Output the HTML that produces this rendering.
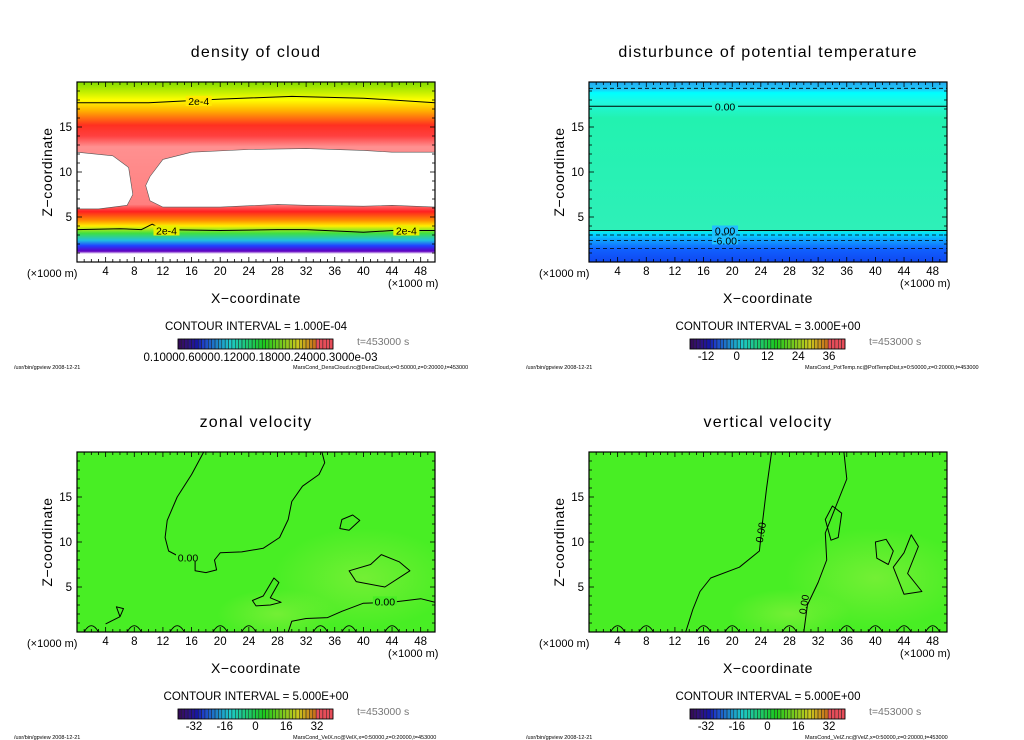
<!DOCTYPE html>
<html><head><meta charset="utf-8"><style>
html,body{margin:0;padding:0;background:#fff;width:1024px;height:740px;overflow:hidden}
svg{display:block}
text{font-family:"Liberation Sans","DejaVu Sans",sans-serif;fill:#000}
</style></head><body>
<svg id="s" width="1024" height="740" viewBox="0 0 1024 740" xmlns="http://www.w3.org/2000/svg">
<defs>
<linearGradient id="gDens" gradientUnits="userSpaceOnUse" x1="0" y1="82" x2="0" y2="262">
<stop offset="0" stop-color="#80dc00"/><stop offset="0.06" stop-color="#c8f000"/><stop offset="0.1" stop-color="#ffff00"/>
<stop offset="0.16" stop-color="#ffb000"/><stop offset="0.24" stop-color="#ff3020"/><stop offset="0.3" stop-color="#ff4040"/>
<stop offset="0.36" stop-color="#ff9090"/><stop offset="0.68" stop-color="#ff8080"/><stop offset="0.72" stop-color="#ff2020"/>
<stop offset="0.77" stop-color="#ff9000"/><stop offset="0.8" stop-color="#ffee00"/><stop offset="0.84" stop-color="#40e040"/>
<stop offset="0.88" stop-color="#20c0e0"/><stop offset="0.91" stop-color="#2040ff"/><stop offset="0.94" stop-color="#6000c0"/>
<stop offset="0.955" stop-color="#ffffff"/><stop offset="1" stop-color="#ffffff"/>
</linearGradient>
<linearGradient id="gTemp" gradientUnits="userSpaceOnUse" x1="0" y1="82" x2="0" y2="262">
<stop offset="0" stop-color="#20a8f0"/><stop offset="0.04" stop-color="#20c8f8"/><stop offset="0.06" stop-color="#00ffff"/>
<stop offset="0.11" stop-color="#20f8e0"/><stop offset="0.2" stop-color="#22f2b0"/><stop offset="0.82" stop-color="#2ef0b8"/>
<stop offset="0.84" stop-color="#00e0ff"/><stop offset="0.88" stop-color="#10a0ff"/><stop offset="0.93" stop-color="#1060ff"/>
<stop offset="1" stop-color="#1048f0"/>
</linearGradient>
<radialGradient id="gBlob"><stop offset="0" stop-color="#90f040" stop-opacity="0.6"/><stop offset="1" stop-color="#90f040" stop-opacity="0"/></radialGradient>
<clipPath id="c0"><rect x="77" y="82" width="358" height="180"/></clipPath>
<clipPath id="c1"><rect x="589" y="82" width="358" height="180"/></clipPath>
<clipPath id="c2"><rect x="77" y="452" width="358" height="180"/></clipPath>
<clipPath id="c3"><rect x="589" y="452" width="358" height="180"/></clipPath>
</defs>
</svg>
<script>
// ---- data arrays ----
var xTicks = [4,8,12,16,20,24,28,32,36,40,44,48];
var zTicks = [5,10,15];
var titles = ["density of cloud","disturbunce of potential temperature","zonal velocity","vertical velocity"];
var intervals = ["CONTOUR INTERVAL = 1.000E-04","CONTOUR INTERVAL = 3.000E+00","CONTOUR INTERVAL = 5.000E+00","CONTOUR INTERVAL = 5.000E+00"];
var cbLabels = [["0.10000.60000.12000.18000.24000.3000e-03"],["-12","0","12","24","36"],["-32","-16","0","16","32"],["-32","-16","0","16","32"]];
var footers = ["MarsCond_DensCloud.nc@DensCloud,x=0:50000,z=0:20000,t=453000","MarsCond_PotTemp.nc@PotTempDist,x=0:50000,z=0:20000,t=453000","MarsCond_VelX.nc@VelX,x=0:50000,z=0:20000,t=453000","MarsCond_VelZ.nc@VelZ,x=0:50000,z=0:20000,t=453000"];
// density contours (x km, z km)
var densTop = [[0,17.7],[10,17.7],[20,18.1],[30,18.4],[40,18.2],[50,17.7]];
var densLow = [[0,3.6],[6,3.7],[9,3.6],[10.5,4.2],[12,3.6],[20,3.5],[28,3.6],[32,3.6],[40,3.3],[44,3.5],[50,3.5]];
var densHoleL = [[0,12.2],[5,11.8],[7.2,10.5],[7.8,7.5],[7,6.3],[3,5.9],[0,5.9]];
var densHoleR = [[10.2,9.5],[12,11.4],[16,12.2],[24,12.5],[32,12.6],[40,12.4],[44,12.2],[50,12.2],[50,6.1],[44,6.3],[40,6.2],[32,6.3],[28,6.4],[20,6.1],[12,6.1],[10.2,6.8],[9.6,8.5]];
// temperature contour levels (z km)
var tempSolid = [17.3,3.5];
var tempDash = [19.3,3.0,2.4,1.5];
// zonal velocity zero contours
var zonMain = [[17.7,20],[16,17.5],[14,15],[12.6,12.4],[12.3,10.5],[12.8,9],[14,8.5],[16.5,8.3],[16.5,6.8],[18,6.6],[19.5,6.9],[19.2,8],[20,8.8],[23,8.9],[26,9.3],[28.3,10.5],[29.5,12.5],[30,14.5],[31.5,16.2],[33.8,17.5],[34.6,18.8],[34.2,20]];
var zonLow = [[29.5,0],[30,1.2],[32,1.5],[35,1.6],[37,2.3],[40,3.2],[44,3.3],[46,3.5],[48,3.7],[50,3.3]];
var zonIsl1 = [[37,12.5],[38.5,13],[39.5,12.4],[38,11.3],[36.7,11.5]];
var zonIsl2 = [[38,6.8],[41,7.5],[42.5,8.6],[45,7.8],[46.5,6.8],[43,5],[39,5.6]];
var zonIsl3 = [[26,4],[27.5,6],[28.2,5.5],[27,3.8],[28.5,3.3],[27,3],[25,2.9],[24.5,3.5]];
var zonIsl4 = [[4,0.9],[6,1.7],[6.5,2.6],[5.5,2.8],[6,1.7]];
// vertical velocity zero contours
var vertA = [[25.5,20],[24.8,16],[24.2,12],[23.8,9],[21,7.2],[17,6],[15.5,4.5],[14.5,2.5],[13.5,0]];
var vertB = [[35.6,20],[36,17],[34.5,14],[33,11],[33.2,8],[32,5.5],[30.5,3],[30,0]];
var vertIsl1 = [[33,12.5],[34,14],[35.3,13.2],[34.8,10.5],[33.8,10.2]];
var vertIsl2 = [[40,10],[41.5,10.3],[42.5,9],[41.8,7.5],[40.2,8.2]];
var vertIsl3 = [[42.5,7.2],[44,8.8],[45,10.8],[46,9.5],[44.5,6.5],[46.5,4.5],[44,4.2]];

var S = document.getElementById('s');
var NS = 'http://www.w3.org/2000/svg';
function mk(tag, at, parent){var e=document.createElementNS(NS,tag);for(var k in at)e.setAttribute(k,at[k]);(parent||S).appendChild(e);return e;}
function txt(x,y,str,size,anchor,parent){var t=mk('text',{x:x,y:y,'font-size':size,'text-anchor':anchor||'middle'},parent);t.textContent=str;return t;}

var panels=[[0,0],[512,0],[0,370],[512,370]];
panels.forEach(function(p,i){
  var ox=p[0], oy=p[1];
  var g=mk('g',{});
  
  
  var L=77+ox, R=435+ox, T=82+oy, B=262+oy;
  function X(v){return L+(R-L)*v/50;}
  function Z(v){return B-(B-T)*v/20;}
  function path(pts,closed){return pts.map(function(q,j){return (j?'L':'M')+X(q[0]).toFixed(1)+' '+Z(q[1]).toFixed(1);}).join(' ')+(closed?' Z':'');}
  var plot=mk('g',{'clip-path':'url(#c'+i+')'},g);
  
  
  if(i===0){
    mk('rect',{x:L,y:T,width:R-L,height:B-T,fill:'url(#gDens)'},plot);
    var h1=mk('path',{d:path(densHoleL,true),fill:'#fff',stroke:'#555','stroke-width':0.6},plot);
    
    var h2=mk('path',{d:path(densHoleR,true),fill:'#fff',stroke:'#555','stroke-width':0.6},plot);
    
    mk('path',{d:path(densTop),fill:'none',stroke:'#000','stroke-width':1},plot);
    mk('path',{d:path(densLow),fill:'none',stroke:'#000','stroke-width':1},plot);
    [[X(17),Z(17.9),'#ffea00'],[X(12.5),Z(3.5),'#e8f000'],[X(46),Z(3.5),'#e8f000']].forEach(function(c){
      mk('rect',{x:c[0]-13,y:c[1]-5,width:26,height:10,fill:c[2]},plot);
      txt(c[0],c[1]+4,'2e-4',10.5,'middle',plot);
    });
  } else if(i===1){
    mk('rect',{x:L,y:T,width:R-L,height:B-T,fill:'url(#gTemp)'},plot);
    tempSolid.forEach(function(z){mk('line',{x1:L,x2:R,y1:Z(z),y2:Z(z),stroke:'#000','stroke-width':1},plot);});
    tempDash.forEach(function(z){mk('line',{x1:L,x2:R,y1:Z(z),y2:Z(z),stroke:'#000','stroke-width':0.8,'stroke-dasharray':'4 3'},plot);});
    [[17.3,'0.00'],[3.5,'0.00'],[2.4,'-6.00']].forEach(function(c){
      mk('rect',{x:X(19)-13,y:Z(c[0])-5,width:26,height:9,fill:c[0]>10?'#20f8d0':'#20c0ff'},plot);
      txt(X(19),Z(c[0])+4,c[1],10.5,'middle',plot);
    });
  } else {
    mk('rect',{x:L,y:T,width:R-L,height:B-T,fill:'#48ee24'},plot);
    mk('ellipse',{cx:X(40),cy:Z(6),rx:90,ry:50,fill:'url(#gBlob)'},plot);
    mk('ellipse',{cx:X(28),cy:Z(2),rx:60,ry:25,fill:'url(#gBlob)'},plot);
    var lines = i===2 ? [[zonMain,0],[zonLow,0],[zonIsl1,1],[zonIsl2,1],[zonIsl3,1],[zonIsl4,0]] : [[vertA,0],[vertB,0],[vertIsl1,1],[vertIsl2,1],[vertIsl3,1]];
    lines.forEach(function(l){var c=mk('path',{d:path(l[0],l[1]),fill:'none',stroke:'#000','stroke-width':1,'stroke-linejoin':'round'},plot);
      
      });
    var bx = i===2 ? [2,8,14,20,24,34,38,44] : [4,8,16,20,28,36,40,44,48];
    bx.forEach(function(v){mk('path',{d:'M'+X(v-1)+' '+Z(0)+' Q'+X(v)+' '+Z(1.4)+' '+X(v+1)+' '+Z(0),fill:'none',stroke:'#000','stroke-width':0.9},plot);});
    if(i===2){
      [[15.5,8.3],[43,3.4]].forEach(function(c){mk('rect',{x:X(c[0])-12,y:Z(c[1])-5,width:24,height:9,fill:'#48ee24'},plot);txt(X(c[0]),Z(c[1])+4,'0.00',10.5,'middle',plot);});
    } else {
      var t1=txt(X(24.5),Z(11),'0.00',10.5,'middle',plot);t1.setAttribute('transform','rotate(-80 '+X(24.5)+' '+Z(11)+')');
      var t2=txt(X(30.5),Z(3),'0.00',10,'middle',plot);t2.setAttribute('transform','rotate(-80 '+X(30.5)+' '+Z(3)+')');
    }
  }
  mk('rect',{x:L,y:T,width:R-L,height:B-T,fill:'none',stroke:'#000','stroke-width':1.2},g);
  for(var v=1;v<50;v++){var len=(v%4===0)?5:3;
    mk('line',{x1:X(v),x2:X(v),y1:B,y2:B-len,stroke:'#000','stroke-width':0.8},g);
    mk('line',{x1:X(v),x2:X(v),y1:T,y2:T+len,stroke:'#000','stroke-width':0.8},g);}
  for(var w=1;w<20;w++){var ln=(w%5===0)?5:3;
    mk('line',{x1:L,x2:L+ln,y1:Z(w),y2:Z(w),stroke:'#000','stroke-width':0.8},g);
    mk('line',{x1:R,x2:R-ln,y1:Z(w),y2:Z(w),stroke:'#000','stroke-width':0.8},g);}
  xTicks.forEach(function(v){var t=txt(X(v),B+13,String(v),11.5,'middle',g);});
  zTicks.forEach(function(v){var t=txt(L-5,Z(v)+4,String(v),11.5,'end',g);});
  var tt=txt(256+ox,57+oy,titles[i],16,'middle',g);tt.setAttribute('letter-spacing','1.2');
  var xu1=txt(27+ox,277+oy,'(\u00d71000 m)',11,'start',g);
  var xu2=txt(388+ox,287+oy,'(\u00d71000 m)',11,'start',g);
  var xa=txt(256+ox,303+oy,'X\u2212coordinate',14,'middle',g);xa.setAttribute('letter-spacing','0.6');
  var ya=txt(0,0,'Z\u2212coordinate',14,'middle',g);ya.setAttribute('letter-spacing','0.6');ya.setAttribute('transform','translate('+(52+ox)+','+(172+oy)+') rotate(-90)');
  
  var ci=txt(256+ox,330+oy,intervals[i],11.5,'middle',g);
  var cb=mk('g',{},g);
  var cx0=178+ox,cw=155,n=46,cy=339+oy;
  for(var k=0;k<n;k++){var f=k/(n-1);var hue=270-f*270;if(hue<0)hue=0;var light=f<0.15?20+f*150:(f>0.9?60:45);
    mk('rect',{x:cx0+k*cw/n,y:cy,width:cw/n,height:10,fill:'hsl('+(f>0.9?355:hue)+',75%,'+light+'%)',stroke:'#222','stroke-width':0.5},cb);}
  mk('rect',{x:cx0,y:cy,width:cw,height:10,fill:'none',stroke:'#000','stroke-width':0.8},cb);
  var lab=cbLabels[i];
  if(lab.length===1){txt(cx0+cw/2+5,cy+22,lab[0],11.5,'middle',cb);}
  else{lab.forEach(function(s,j){txt(cx0+16+j*(cw-32)/(lab.length-1),cy+21,s,11.5,'middle',cb);});}
  var tl=txt(357+ox,345+oy,'t=453000  s',10.5,'start',g);
  tl.style.fill='#777';
  var f1=txt(14+ox,369+oy,'/usr/bin/gpview   2008-12-21',5.5,'start',g);
  var f2=txt(293+ox,369+oy,footers[i],5.5,'start',g);
});
</script>
</body></html>
